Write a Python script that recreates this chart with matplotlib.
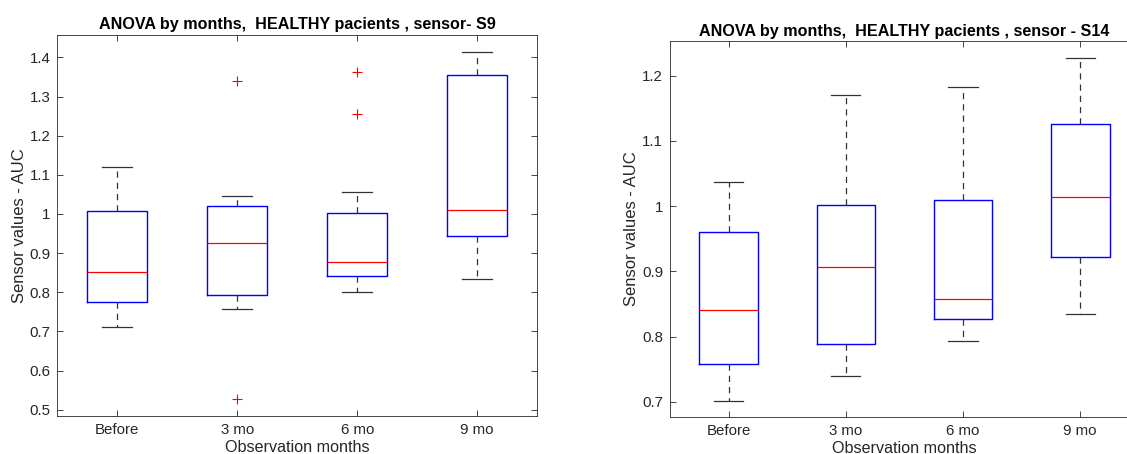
import numpy as np
import matplotlib
matplotlib.use('Agg')
import matplotlib.pyplot as plt

plt.rcParams['font.family'] = ['Liberation Sans', 'DejaVu Sans']

months = ['Before', '3 mo', '6 mo', '9 mo']

# sensor S9: lower whisker, Q1, median, Q3, upper whisker, outliers
s9_whislo = [0.712, 0.757, 0.7995, 0.833]
s9_q1 = [0.7745, 0.7934, 0.842, 0.9427]
s9_med = [0.852, 0.9246, 0.878, 1.0091]
s9_q3 = [1.007, 1.0195, 1.002, 1.354]
s9_whishi = [1.119, 1.045, 1.0566, 1.413]
s9_fliers = [[], [1.339, 0.527], [1.362, 1.256], []]

# sensor S14
s14_whislo = [0.7016, 0.7399, 0.7938, 0.8342]
s14_q1 = [0.7585, 0.7891, 0.8269, 0.9218]
s14_med = [0.8404, 0.9067, 0.8585, 1.0135]
s14_q3 = [0.961, 1.0021, 1.0093, 1.1264]
s14_whishi = [1.0378, 1.171, 1.1829, 1.2264]
s14_fliers = [[], [], [], []]


def make_stats(whislo, q1, med, q3, whishi, fliers):
    stats = []
    for i in range(len(months)):
        stats.append({
            'label': months[i],
            'whislo': whislo[i], 'q1': q1[i], 'med': med[i],
            'q3': q3[i], 'whishi': whishi[i], 'fliers': fliers[i],
        })
    return stats


def draw_panel(ax, stats, title, ylim, yticks, yticklabels):
    ax.bxp(
        stats, positions=np.arange(1, 5), widths=0.5, capwidths=0.25,
        boxprops=dict(color='#0000ff', linewidth=1.0),
        medianprops=dict(color='#ff0000', linewidth=0.9),
        whiskerprops=dict(color='#333333', linewidth=0.9, linestyle=(0, (5, 4))),
        capprops=dict(color='#333333', linewidth=0.9),
        flierprops=dict(marker='+', markeredgecolor='#ff0000',
                        markersize=7, markeredgewidth=0.8, linestyle='none'),
    )
    ax.set_xlim(0.5, 4.5)
    ax.set_ylim(*ylim)
    ax.set_yticks(yticks)
    ax.set_yticklabels(yticklabels)
    ax.set_xticks(np.arange(1, 5))
    ax.set_xticklabels(months)
    ax.tick_params(direction='in', top=True, right=True, length=4,
                   width=0.6, color='#262626', labelcolor='#262626',
                   labelsize=10.8, pad=5)
    for sp in ax.spines.values():
        sp.set_color('#262626')
        sp.set_linewidth(0.6)
    ax.set_title(title, fontsize=11.6, fontweight='bold', pad=4)
    ax.set_xlabel('Observation months', fontsize=11.6, color='#262626',
                  labelpad=2)
    ax.set_ylabel('Sensor values - AUC', fontsize=12, color='#262626',
                  labelpad=2)


fig = plt.figure(figsize=(11.27, 4.54), dpi=100)
ax1 = fig.add_axes([0.051, 0.0837, 0.4255, 0.840])
ax2 = fig.add_axes([0.5945, 0.0815, 0.416, 0.828])

s9_ticks = [0.5, 0.6, 0.7, 0.8, 0.9, 1.0, 1.1, 1.2, 1.3, 1.4]
draw_panel(ax1, make_stats(s9_whislo, s9_q1, s9_med, s9_q3, s9_whishi, s9_fliers),
           'ANOVA by months,  HEALTHY pacients , sensor- S9',
           (0.484, 1.458), s9_ticks,
           ['0.5', '0.6', '0.7', '0.8', '0.9', '1', '1.1', '1.2', '1.3', '1.4'])

s14_ticks = [0.7, 0.8, 0.9, 1.0, 1.1, 1.2]
draw_panel(ax2, make_stats(s14_whislo, s14_q1, s14_med, s14_q3, s14_whishi, s14_fliers),
           'ANOVA by months,  HEALTHY pacients , sensor - S14',
           (0.677, 1.253), s14_ticks,
           ['0.7', '0.8', '0.9', '1', '1.1', '1.2'])

fig.savefig('out.png', dpi=100)
